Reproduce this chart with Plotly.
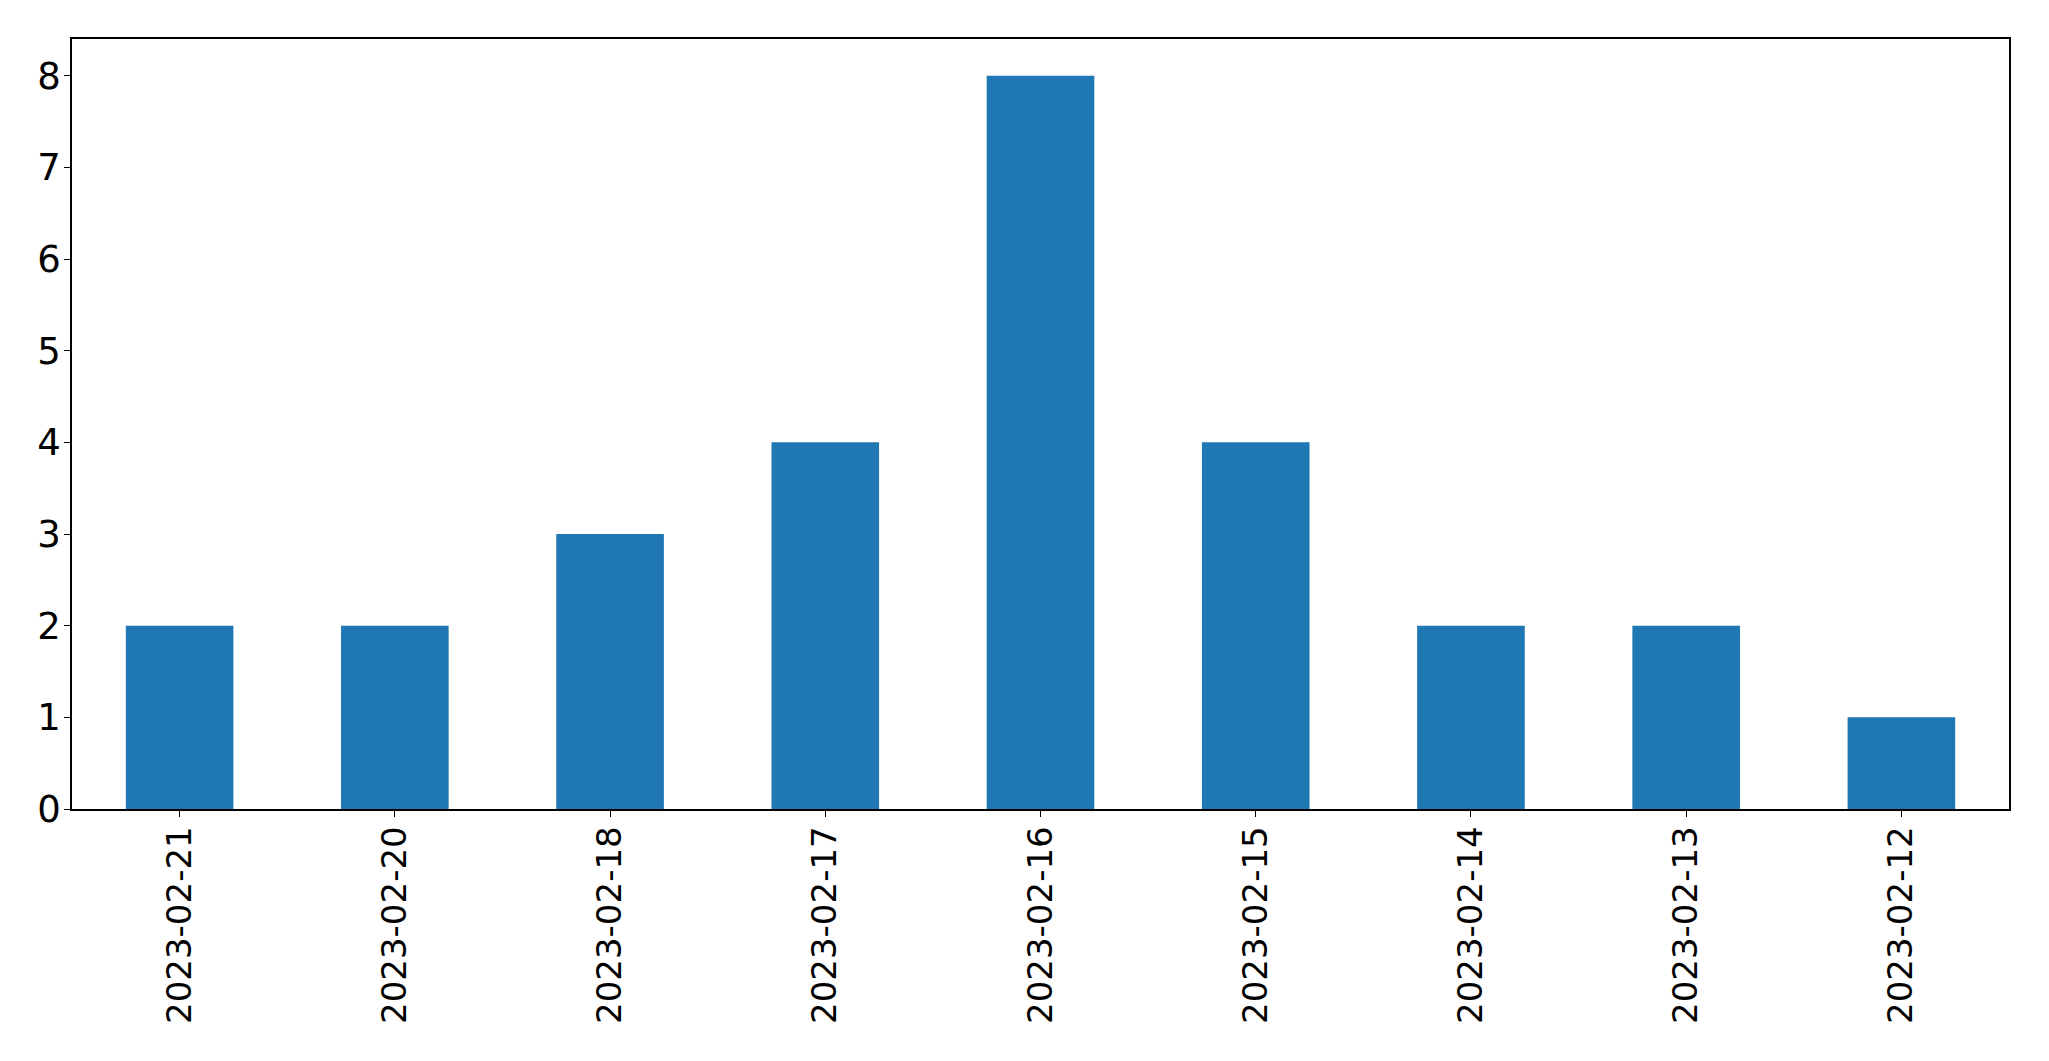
import plotly.graph_objects as go

dates = ["2023-02-21", "2023-02-20", "2023-02-18", "2023-02-17", "2023-02-16",
         "2023-02-15", "2023-02-14", "2023-02-13", "2023-02-12"]
counts = [2, 2, 3, 4, 8, 4, 2, 2, 1]
y_ticks = [0, 1, 2, 3, 4, 5, 6, 7, 8]

fig = go.Figure()
fig.add_trace(go.Bar(
    x=list(range(len(dates))), y=counts, width=0.5,
    marker=dict(color="#1f77b4", line=dict(width=0)),
))

fig.update_layout(
    width=2041, height=1053,
    margin=dict(l=64, r=40, t=31, b=252, autoexpand=False),
    paper_bgcolor="white", plot_bgcolor="white",
    font=dict(family="DejaVu Sans", size=34, color="black"),
    showlegend=False,
)
fig.update_xaxes(
    range=[-0.5, len(dates) - 0.5],
    tickmode="array", tickvals=list(range(len(dates))), ticktext=dates,
    tickangle=-90, ticks="outside", ticklen=6, tickwidth=1.3, tickcolor="black",
    tickfont=dict(size=34), ticklabelstandoff=-4,
    showline=True, linecolor="black", linewidth=1.5, mirror=True,
    showgrid=False, zeroline=False,
)
fig.update_yaxes(
    range=[0, 8.4],
    tickmode="array", tickvals=y_ticks,
    ticks="outside", ticklen=6, tickwidth=1.3, tickcolor="black",
    tickfont=dict(size=37), ticklabelstandoff=-4,
    showline=True, linecolor="black", linewidth=1.5, mirror=True,
    showgrid=False, zeroline=False,
)

fig.write_html("out.html")
